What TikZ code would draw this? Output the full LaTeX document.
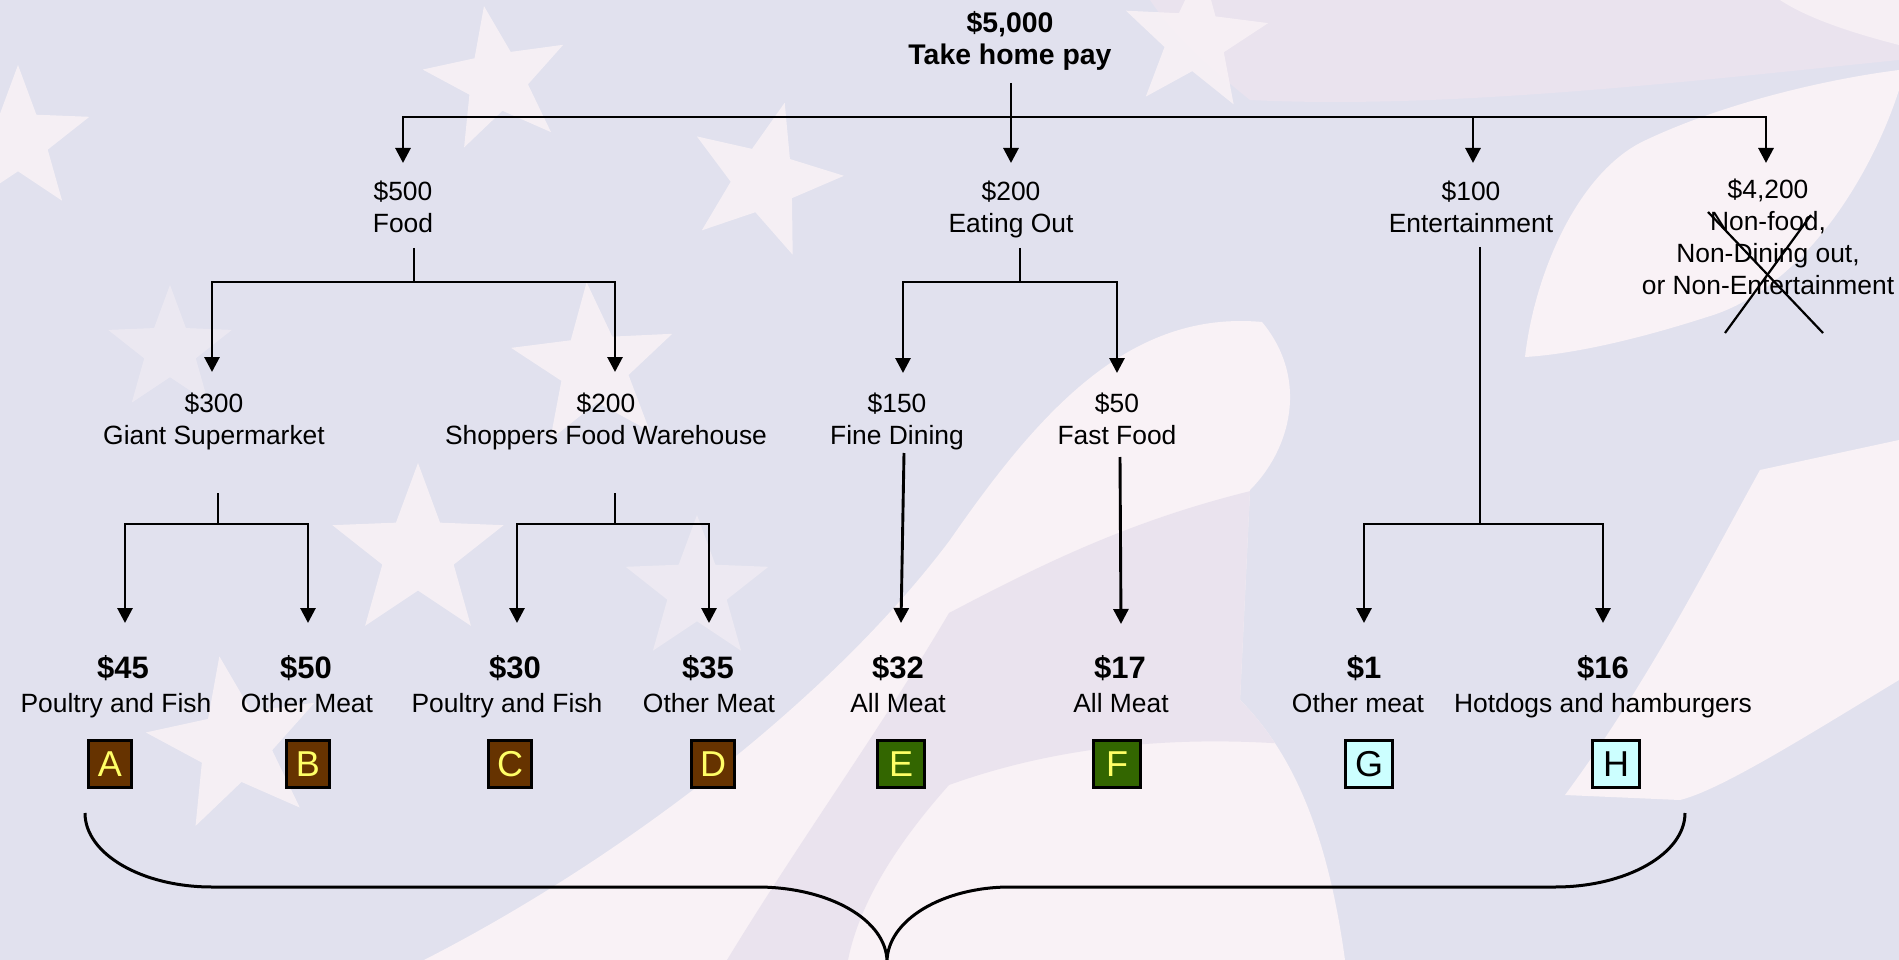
\documentclass[tikz,border=0pt]{standalone}
\usepackage{fontspec}
\setmainfont{Liberation Sans}
\usetikzlibrary{arrows.meta,shapes.geometric}
\definecolor{cBase}{RGB}{225,225,238}
\definecolor{cWhite}{RGB}{249,242,246}
\definecolor{cPink}{RGB}{234,227,238}
\definecolor{cBrown}{RGB}{102,51,0}
\definecolor{cGreen}{RGB}{51,102,0}
\definecolor{cCyan}{RGB}{204,255,255}
\definecolor{cYellow}{RGB}{255,255,102}
\tikzset{
 lbl/.style={font=\fontsize{26.4}{32}\selectfont, align=center, inner sep=0pt, anchor=base},
 amt/.style={font=\bfseries\fontsize{31}{36}\selectfont, inner sep=0pt, anchor=base},
 ttl/.style={font=\bfseries\fontsize{28.4}{32}\selectfont, align=center, inner sep=0pt, anchor=base},
 conn/.style={line width=2.9pt},
 arr/.style={line width=2.9pt, -{Triangle[length=15pt,width=15pt]}},
 tagbox/.style={draw=black, line width=2.6pt, minimum height=47.5pt, inner sep=0pt, font=\fontsize{36}{40}\selectfont},
 meatbox/.style={tagbox, fill=cBrown, text=cYellow, minimum width=43.5pt},
 outbox/.style={tagbox, fill=cGreen, text=cYellow, minimum width=47.5pt},
 funbox/.style={tagbox, fill=cCyan, text=black, minimum width=47.5pt},
 bgstar/.style={star, star points=5, star point ratio=2.4, fill=cWhite, draw=none, inner sep=0pt, opacity=0.85},
}
\def\wonepath{(424,960) .. controls (620,860) and (830,700) .. (950,540)
  .. controls (1040,410) and (1130,310) .. (1262,322)
  .. controls (1310,380) and (1290,450) .. (1250,490) -- (1240,700)
  .. controls (1300,760) and (1330,850) .. (1345,960) -- cycle}
\begin{document}
\begin{tikzpicture}[x=1pt,y=-1pt,line join=miter]
\useasboundingbox (0,0) rectangle (1899,960);
% ---------- background ----------
\fill[cBase] (0,0) rectangle (1899,960);
\fill[cPink] (1150,0) -- (1899,0) -- (1899,60) .. controls (1700,80) and (1450,110) .. (1250,100)
  .. controls (1200,60) and (1170,30) .. (1150,0) -- cycle;
\fill[cWhite, opacity=0.8] (1780,0) -- (1899,0) -- (1899,45) .. controls (1860,35) and (1810,20) .. (1780,0) -- cycle;
\fill[cWhite] \wonepath;
\begin{scope}
\clip \wonepath;
\fill[cPink] (727,960) .. controls (800,840) and (880,730) .. (949,613)
  .. controls (1050,560) and (1150,510) .. (1300,480) -- (1300,745)
  .. controls (1180,735) and (1060,745) .. (949,785)
  .. controls (900,840) and (860,900) .. (848,960) -- cycle;
\end{scope}
\fill[cWhite] (1760,470) -- (1899,440) -- (1899,680)
  .. controls (1800,740) and (1720,790) .. (1680,800) -- (1565,795)
  .. controls (1650,680) and (1710,560) .. (1760,470) -- cycle;
\fill[cWhite] (1525,357) .. controls (1535,270) and (1580,170) .. (1646,140)
  .. controls (1720,105) and (1820,80) .. (1899,70) -- (1899,90)
  .. controls (1870,180) and (1800,290) .. (1707,317)
  .. controls (1620,345) and (1560,355) .. (1525,357) -- cycle;
\node[bgstar, minimum size=150pt, rotate=10] (st1) at (497,80) {};
\node[bgstar, minimum size=160pt, rotate=-15] (st2) at (764,180) {};
\node[bgstar, minimum size=150pt] (st3) at (18,140) {};
\node[bgstar, minimum size=170pt, rotate=5] (st4) at (594,367) {};
\node[bgstar, minimum size=180pt] (st5) at (418,553) {};
\node[bgstar, minimum size=180pt, rotate=10] (st6) at (235,745) {};
\node[bgstar, minimum size=150pt, rotate=-5] (st7) at (1195,40) {};
\node[bgstar, minimum size=130pt, opacity=0.45] (st8) at (170,350) {};
\node[bgstar, minimum size=150pt, opacity=0.5] (st9) at (697,590) {};
% ---------- texts ----------
\node[ttl] (pay) at (1010,65) {\$5,000\\Take home pay};
\node[lbl] (food) at (403,232.5) {\$500\\Food};
\node[lbl] (eat) at (1011,232.5) {\$200\\Eating Out};
\node[lbl] (ent) at (1471,232.5) {\$100\\Entertainment};
\node[lbl] (non) at (1768,294.5) {\$4,200\\Non-food,\\Non-Dining out,\\or Non-Entertainment};
\node[lbl] (giant) at (214,444) {\$300\\Giant Supermarket};
\node[lbl] (shop) at (606,444) {\$200\\Shoppers Food Warehouse};
\node[lbl] (fine) at (897,444) {\$150\\Fine Dining};
\node[lbl] (fast) at (1117,444) {\$50\\Fast Food};
\node[amt] (a45) at (123,678) {\$45};
\node[amt] (a50) at (306,678) {\$50};
\node[amt] (a30) at (515,678) {\$30};
\node[amt] (a35) at (708,678) {\$35};
\node[amt] (a32) at (898,678) {\$32};
\node[amt] (a17) at (1120,678) {\$17};
\node[amt] (a1) at (1364,678) {\$1};
\node[amt] (a16) at (1603,678) {\$16};
\node[lbl] (lA) at (116,712.5) {Poultry and Fish};
\node[lbl] (lB) at (307,712.5) {Other Meat};
\node[lbl] (lC) at (507,712.5) {Poultry and Fish};
\node[lbl] (lD) at (709,712.5) {Other Meat};
\node[lbl] (lE) at (898,712.5) {All Meat};
\node[lbl] (lF) at (1121,712.5) {All Meat};
\node[lbl] (lG) at (1358,712.5) {Other meat};
\node[lbl] (lH) at (1603,712.5) {Hotdogs and hamburgers};
\node[meatbox] (bA) at (110,764) {A};
\node[meatbox] (bB) at (308,764) {B};
\node[meatbox] (bC) at (510,764) {C};
\node[meatbox] (bD) at (713,764) {D};
\node[outbox] (bE) at (901,764) {E};
\node[outbox] (bF) at (1117,764) {F};
\node[funbox] (bG) at (1369,764) {G};
\node[funbox] (bH) at (1616,764) {H};
% ---------- junctions ----------
\coordinate (p0) at (1011,83);
\coordinate (eatTip) at (1011,163);
\coordinate (h0L) at (403,117);
\coordinate (h0R) at (1766,117);
\coordinate (entJ) at (1473,117);
\coordinate (foodTip) at (403,163);
\coordinate (entTip) at (1473,163);
\coordinate (nonTip) at (1766,163);
\coordinate (foodS) at (414,248);
\coordinate (foodJ) at (414,282);
\coordinate (gL) at (212,282);
\coordinate (gR) at (615,282);
\coordinate (giantTip) at (212,372);
\coordinate (shopTip) at (615,372);
\coordinate (eatS) at (1020,248);
\coordinate (eatJ) at (1020,282);
\coordinate (fdJ) at (903,282);
\coordinate (ffJ) at (1117,282);
\coordinate (fineTip) at (903,373);
\coordinate (fastTip) at (1117,373);
\coordinate (entS) at (1480,247);
\coordinate (entJ2) at (1480,524);
\coordinate (gJ) at (1364,524);
\coordinate (hJ) at (1603,524);
\coordinate (gTip) at (1364,623);
\coordinate (hTip) at (1603,623);
\coordinate (giS) at (218,493);
\coordinate (giJ) at (218,524);
\coordinate (aJ) at (125,524);
\coordinate (bJ) at (308,524);
\coordinate (aTip) at (125,623);
\coordinate (bTip) at (308,623);
\coordinate (shS) at (615,493);
\coordinate (shJ) at (615,524);
\coordinate (cJ) at (517,524);
\coordinate (dJ) at (709,524);
\coordinate (cTip) at (517,623);
\coordinate (dTip) at (709,623);
\coordinate (fdS) at (904,453);
\coordinate (eTip) at (901,623);
\coordinate (ffS) at (1120,457);
\coordinate (fTip) at (1121,624);
% ---------- connectors ----------
\draw[arr] (p0) -- (eatTip);
\draw[arr] (entJ) -- (h0L) -- (foodTip);
\draw[arr] (entJ) -- (h0R) -- (nonTip);
\draw[arr] (entJ) -- (entTip);
\draw[conn] (foodS) -- (foodJ);
\draw[arr] (foodJ) -- (gL) -- (giantTip);
\draw[arr] (foodJ) -- (gR) -- (shopTip);
\draw[conn] (eatS) -- (eatJ);
\draw[arr] (eatJ) -- (fdJ) -- (fineTip);
\draw[arr] (eatJ) -- (ffJ) -- (fastTip);
\draw[conn] (entS) -- (entJ2);
\draw[arr] (entJ2) -- (gJ) -- (gTip);
\draw[arr] (entJ2) -- (hJ) -- (hTip);
\draw[conn] (giS) -- (giJ);
\draw[arr] (giJ) -- (aJ) -- (aTip);
\draw[arr] (giJ) -- (bJ) -- (bTip);
\draw[conn] (shS) -- (shJ);
\draw[arr] (shJ) -- (cJ) -- (cTip);
\draw[arr] (shJ) -- (dJ) -- (dTip);
\draw[arr] (fdS) -- (eTip);
\draw[arr] (ffS) -- (fTip);
% ---------- cross ----------
\coordinate (x1) at (1708,212);
\coordinate (x2) at (1823,333);
\coordinate (x3) at (1811,215);
\coordinate (x4) at (1725,333);
\draw[line width=2.2pt] (x1) -- (x2);
\draw[line width=2.2pt] (x3) -- (x4);
% ---------- brace ----------
\coordinate (brL) at (85,813);
\coordinate (brTip) at (887,962);
\coordinate (brR) at (1685,813);
\draw[line width=3pt] (brL) .. controls (85,854) and (142,887) .. (212,887) -- (757,887)
  .. controls (829,887) and (887,920) .. (brTip)
  .. controls (887,920) and (943,887) .. (1010,887) -- (1555,887)
  .. controls (1626,887) and (1685,854) .. (brR);
\end{tikzpicture}
\end{document}
